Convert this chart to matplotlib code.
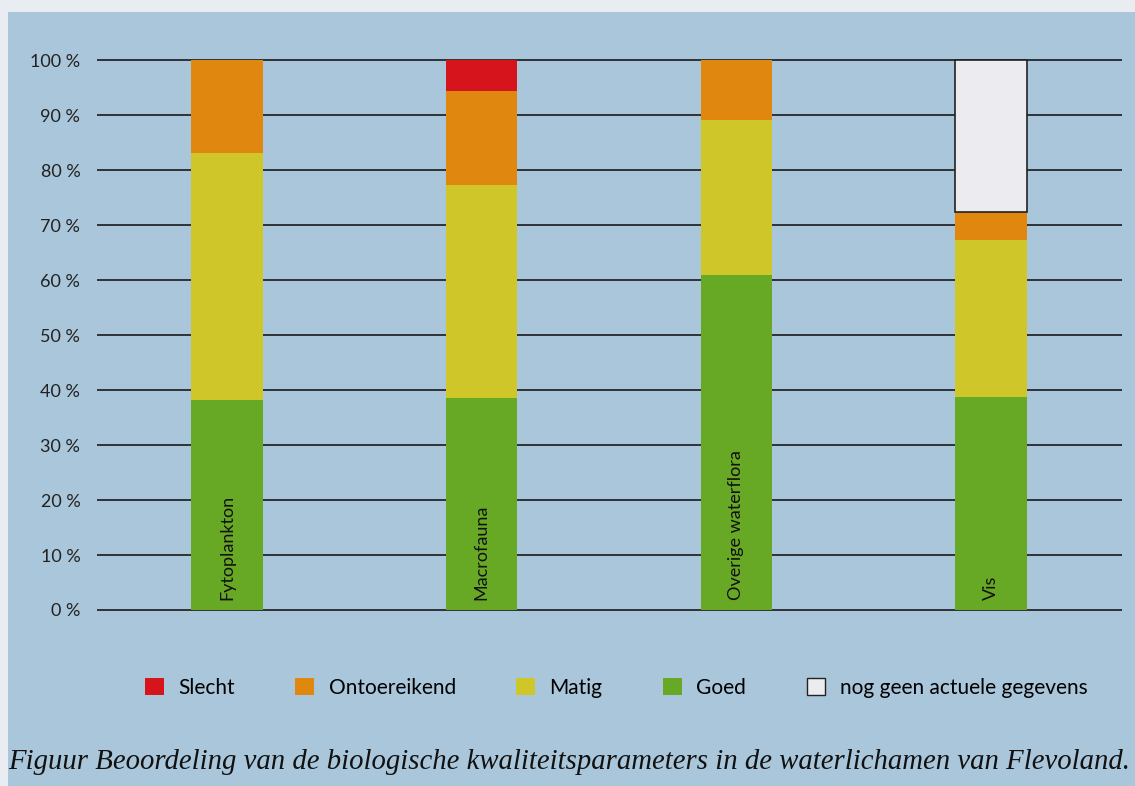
import matplotlib.pyplot as plt
from matplotlib.patches import Patch, Rectangle

# categories and stacked shares (percent), bottom to top
categories = ["Fytoplankton", "Macrofauna", "Overige waterflora", "Vis"]
goed = [38.2, 38.5, 60.9, 38.7]
matig = [44.9, 38.8, 28.2, 28.6]
ontoereikend = [16.9, 17.1, 10.9, 5.1]
slecht = [0, 5.6, 0, 0]
geen_gegevens = [0, 0, 0, 27.6]
yticks = [0, 10, 20, 30, 40, 50, 60, 70, 80, 90, 100]

c_slecht = "#d5141c"
c_ontoer = "#e0870f"
c_matig = "#cfc72a"
c_goed = "#67a824"
c_geen = "#ececf0"
panel = "#a9c6da"

plt.rcParams['font.family'] = ['Lato', 'DejaVu Sans']

fig = plt.figure(figsize=(11.35, 7.86), dpi=100, facecolor="#e9ecf0")
# blue panel behind everything
fig.patches.append(Rectangle((8 / 1135, 0), 1, 1 - 12 / 786, transform=fig.transFigure,
                             facecolor=panel, edgecolor="none", zorder=-5))

ax = fig.add_axes([97 / 1135, 1 - 621 / 786, 1025 / 1135, 572 / 786])
ax.set_zorder(2)
ax.set_facecolor("none")

x = range(len(categories))
w = 0.28
ax.bar(x, goed, w, color=c_goed, zorder=3)
b = [g for g in goed]
ax.bar(x, matig, w, bottom=b, color=c_matig, zorder=3)
b = [b[i] + matig[i] for i in x]
ax.bar(x, ontoereikend, w, bottom=b, color=c_ontoer, zorder=3)
b = [b[i] + ontoereikend[i] for i in x]
ax.bar(x, slecht, w, bottom=b, color=c_slecht, zorder=3)
b = [b[i] + slecht[i] for i in x]
for i in x:
    if geen_gegevens[i] > 0:
        ax.bar(i, geen_gegevens[i], w, bottom=b[i], color=c_geen,
               edgecolor="#222222", linewidth=1.2, zorder=3)

# category names inside the green part
for i in x:
    ax.text(i, 1.8, categories[i], rotation=90, ha="center", va="bottom",
            fontsize=13, color="#111111", zorder=4)

ax.set_xlim(-0.51, 3.515)
ax.set_ylim(-2, 102)
ax.set_yticks(yticks)
ax.set_yticklabels([f"{t} %" for t in yticks], fontsize=13, color="#222222")
ax.set_xticks([])
ax.tick_params(axis="y", length=0, pad=12)
for s in ax.spines.values():
    s.set_visible(False)
ax.grid(axis="y", color="#1a1a1a", linewidth=1.2, zorder=1)
ax.set_axisbelow(True)

handles = [Patch(facecolor=c_slecht, label="Slecht"),
           Patch(facecolor=c_ontoer, label="Ontoereikend"),
           Patch(facecolor=c_matig, label="Matig"),
           Patch(facecolor=c_goed, label="Goed"),
           Patch(facecolor=c_geen, edgecolor="#222222", label="nog geen actuele gegevens")]
fig.legend(handles=handles, loc="center", bbox_to_anchor=(0.543, 1 - 688 / 786), ncol=5,
           frameon=False, fontsize=15, handlelength=0.9, handleheight=0.9,
           handletextpad=0.7, columnspacing=2.9)

fig.text(8 / 1135, 1 - 762 / 786,
         "Figuur Beoordeling van de biologische kwaliteitsparameters in de waterlichamen van Flevoland.",
         fontsize=20.7, style="italic", family=["Liberation Serif", "DejaVu Serif"],
         ha="left", va="center", color="#111111")

fig.savefig("out.png", dpi=100, facecolor=fig.get_facecolor())
